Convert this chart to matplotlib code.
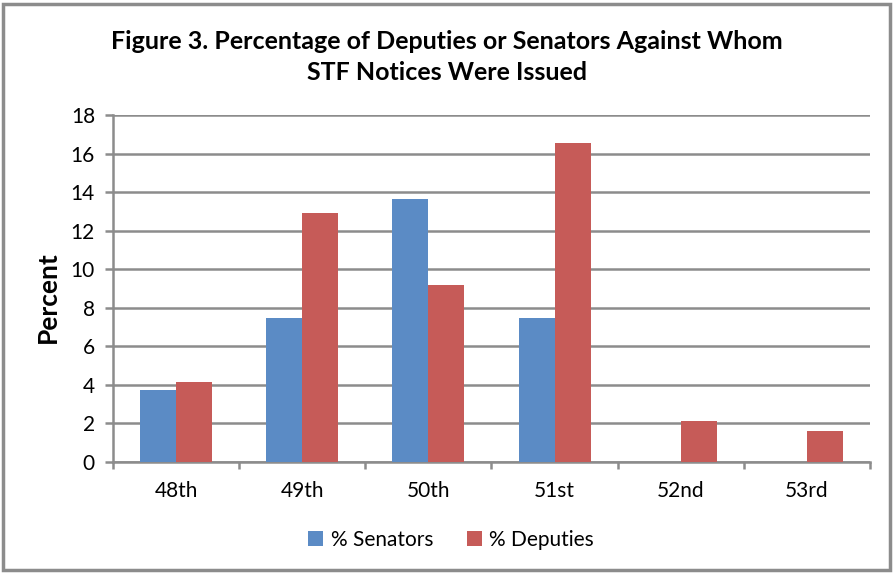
import matplotlib.pyplot as plt
import numpy as np
from matplotlib.patches import Rectangle

plt.rcParams['font.family'] = ['Lato', 'DejaVu Sans']

# Data
congresses = ['48th', '49th', '50th', '51st', '52nd', '53rd']
senators = [3.75, 7.47, 13.62, 7.47, 0, 0]
deputies = [4.15, 12.93, 9.2, 16.56, 2.14, 1.6]

blue = '#5B8BC5'
red = '#C65B58'
grid_col = '#8C8C8C'

fig = plt.figure(figsize=(8.94, 5.73), dpi=100)
ax = fig.add_axes([113 / 894, 1 - 462 / 573, (870 - 113) / 894, (462 - 115) / 573])

x = np.arange(len(congresses))
w = 0.285
ax.bar(x - w / 2, senators, w, color=blue, label='% Senators', zorder=3)
ax.bar(x + w / 2, deputies, w, color=red, label='% Deputies', zorder=3)

ax.set_xlim(-0.5, len(congresses) - 0.5)
ax.set_ylim(0, 18)
ax.set_yticks(range(0, 19, 2))
ax.yaxis.grid(True, color=grid_col, linewidth=1.8, zorder=0)
ax.set_axisbelow(True)

ax.set_xticks(x)
ax.set_xticklabels(congresses, fontsize=15)
ax.set_xticks(np.arange(-0.5, len(congresses), 1), minor=True)
ax.tick_params(axis='x', which='major', length=0, pad=14)
ax.tick_params(axis='x', which='minor', length=5, width=1.8, color=grid_col)
ax.tick_params(axis='y', length=6, width=1.8, color=grid_col, labelsize=15, pad=7)

for s in ['top', 'right']:
    ax.spines[s].set_visible(False)
for s in ['left', 'bottom']:
    ax.spines[s].set_color(grid_col)
    ax.spines[s].set_linewidth(1.8)

ax.set_ylabel('Percent', fontsize=19, fontweight='bold')
ax.yaxis.set_label_coords(-0.07, 0.475)

fig.text(0.5, 1 - 57 / 573, 'Figure 3. Percentage of Deputies or Senators Against Whom\nSTF Notices Were Issued',
         ha='center', va='center', fontsize=18, fontweight='bold', linespacing=1.4)

fig.legend(loc='center', bbox_to_anchor=(451 / 894, 1 - 540 / 573), ncol=2, frameon=False,
           fontsize=15, handlelength=0.75, handleheight=0.75, handletextpad=0.35, columnspacing=1.6)

# outer chart border
fig.patches.append(Rectangle((3 / 894, 3 / 573), 1 - 7 / 894, 1 - 7 / 573, transform=fig.transFigure,
                             fill=False, edgecolor='#8C8C8C', linewidth=2.5))

fig.savefig('out.png', dpi=100)
